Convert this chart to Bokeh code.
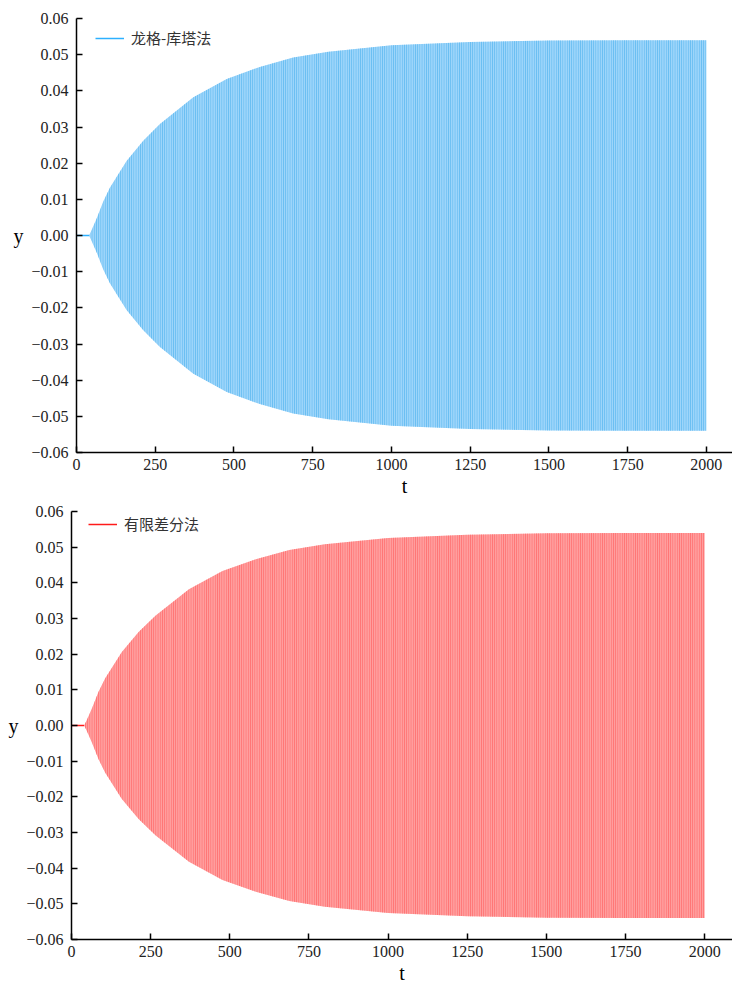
from bokeh.plotting import figure
from bokeh.models import FixedTicker, Legend, LegendItem
from bokeh.embed import file_html
from bokeh.resources import INLINE

# Envelope of the oscillation (t, amplitude)
env_t = [40, 48, 64, 85, 106, 159, 212, 265, 371, 477, 582, 688, 800, 1000, 1250, 1500, 1750, 2000]
env_amp = [0.0, 0.0015, 0.0047, 0.0094, 0.0132, 0.0206, 0.0262, 0.0308, 0.0382, 0.0433,
           0.0466, 0.0492, 0.0508, 0.0526, 0.0535, 0.0539, 0.0540, 0.0540]
# flat start before the oscillation grows
rest_t = [0, 40]
rest_y = [0.0, 0.0]

y_ticks = [-0.06, -0.05, -0.04, -0.03, -0.02, -0.01, 0.0, 0.01, 0.02, 0.03, 0.04, 0.05, 0.06]
y_tick_labels = ["\u22120.06", "\u22120.05", "\u22120.04", "\u22120.03", "\u22120.02", "\u22120.01",
                 "0.00", "0.01", "0.02", "0.03", "0.04", "0.05", "0.06"]
x_ticks = [0, 250, 500, 750, 1000, 1250, 1500, 1750, 2000]

labels = ["龙格-库塔法", "有限差分法"]
line_colors = ["#2DB0FF", "#FF1A1A"]
fill_colors = ["#9DD5FA", "#FF9E9E"]
hatch_colors = ["#4FB2EE", "#FF5E5E"]

NUM_FONT = "Liberation Serif"
CJK_FONT = "Noto Sans CJK SC"


def make_plot(i, height, left, top, bottom, x_end, leg_loc):
    p = figure(width=732, height=height, output_backend="svg", toolbar_location=None,
               x_range=(0, x_end), y_range=(-0.06, 0.06),
               min_border_left=left, min_border_right=0,
               min_border_top=top, min_border_bottom=bottom)
    p.outline_line_color = None
    p.xgrid.visible = False
    p.ygrid.visible = False
    p.background_fill_color = "white"

    upper = env_amp
    lower = [-a for a in env_amp]
    p.varea(x=env_t, y1=lower, y2=upper, fill_color=fill_colors[i], fill_alpha=1.0,
            hatch_pattern="vertical_line", hatch_color=hatch_colors[i], hatch_scale=2.2,
            hatch_weight=1.0, hatch_alpha=0.85)
    r = p.line(rest_t, rest_y, line_color=line_colors[i], line_width=1.5)

    legend = Legend(items=[LegendItem(label=labels[i], renderers=[r])], location=leg_loc)
    legend.border_line_color = None
    legend.background_fill_alpha = 0
    legend.label_text_font = CJK_FONT
    legend.label_text_font_size = "15px"
    legend.label_text_color = "#333333"
    legend.glyph_width = 29
    legend.glyph_height = 20
    legend.label_height = 20
    legend.margin = 0
    legend.padding = 4
    legend.label_standoff = 7
    p.add_layout(legend)

    for ax in (p.xaxis[0], p.yaxis[0]):
        ax.axis_line_width = 1.5
        ax.axis_line_color = "black"
        ax.major_tick_in = 6
        ax.major_tick_out = 0
        ax.major_tick_line_width = 1.5
        ax.minor_tick_line_color = None
        ax.major_label_text_font = NUM_FONT
        ax.major_label_text_font_size = "16px"
        ax.major_label_text_color = "#222222"
        ax.axis_label_text_font = NUM_FONT
        ax.axis_label_text_font_size = "20px"
        ax.axis_label_text_font_style = "normal"
        ax.axis_label_text_color = "black"

    p.xaxis.ticker = FixedTicker(ticks=x_ticks)
    p.yaxis.ticker = FixedTicker(ticks=y_ticks)
    p.yaxis.major_label_overrides = {t: s for t, s in zip(y_ticks, y_tick_labels)}
    p.xaxis.axis_label = "t"
    p.yaxis.axis_label = "y"
    p.yaxis.axis_label_orientation = "horizontal"
    p.xaxis.major_label_standoff = 6
    p.yaxis.major_label_standoff = 8
    p.xaxis.axis_label_standoff = 2
    p.yaxis.axis_label_standoff = 5
    return p


p1 = make_plot(0, 504, 76, 18, 52, 2083, (19, 404))
p2 = make_plot(1, 485, 71, 7, 50, 2088, (17, 405))

open("out.html", "w").write(file_html([p1, p2], INLINE))
